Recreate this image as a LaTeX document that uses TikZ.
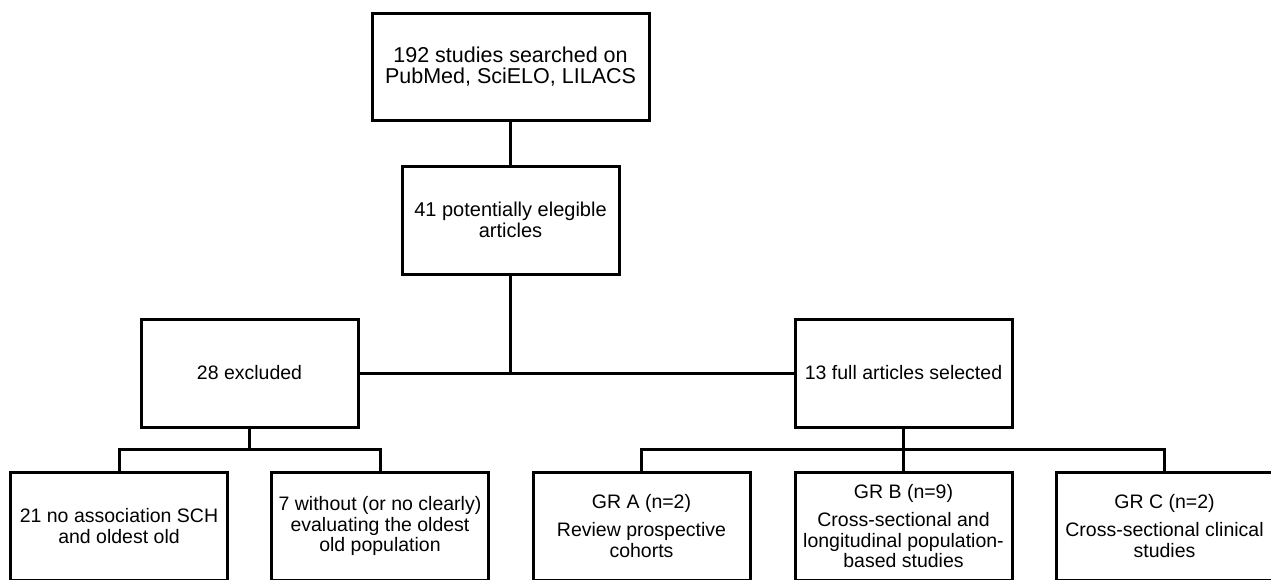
\documentclass[tikz,border=0pt]{standalone}
\usepackage{fontspec}
\setmainfont{Liberation Sans}
\usetikzlibrary{positioning}

\begin{document}
\begin{tikzpicture}[
	x=1pt, y=1pt,
	box/.style={draw, line width=3pt, outer sep=0pt, minimum width=217pt, minimum height=108pt,
		align=center, inner sep=2pt, font=\fontsize{19.5}{20.5}\selectfont},
	link/.style={line width=3pt}
]
	\useasboundingbox (0,0) rectangle (1271,-579);
	
	\node[box, minimum width=277pt, minimum height=107pt, font=\fontsize{21.5}{20.5}\selectfont]
		(search) at (510.5,-66.5) {192 studies searched on\\PubMed, SciELO, LILACS};
	\node[box, below=46pt of search, font=\fontsize{20}{20.5}\selectfont] (elig) {41 potentially elegible\\articles};
	\node[box, below left=45pt and 152.5pt of elig.south] (excl) {28 excluded};
	\node[box, below right=45pt and 284.5pt of elig.south] (sel) {13 full articles selected};
	
	\node[box, below left=45pt and 22pt of excl.south] (exa) {21 no association SCH\\and oldest old};
	\node[box, below right=45pt and 22pt of excl.south] (exb) {7 without (or no clearly)\\evaluating the oldest\\old population};
	
	\node[box, below=45pt of sel] (grb) {GR B (n=9)\\[8pt]Cross-sectional and\\longitudinal population-\\based studies};
	\node[box, left=45pt of grb] (gra) {GR A (n=2)\\[8pt]Review prospective\\cohorts};
	\node[box, right=44pt of grb] (grc) {GR C (n=2)\\[8pt]Cross-sectional clinical\\studies};
	
	\coordinate (mid) at (elig.south |- excl.east);
	\coordinate[below=22pt of excl.south] (bx);
	\coordinate[below=22pt of sel.south] (bs);
	
	\draw[link] (search) -- (elig);
	\draw[link] (elig) -- (mid);
	\draw[link] (excl) -- (sel);
	\draw[link] (excl) -- (bx);
	\draw[link] (exa.north) |- (bx) -| (exb.north);
	\draw[link] (sel) -- (bs);
	\draw[link] (gra.north) |- (bs) -| (grc.north);
	\draw[link] (bs) -- (grb);
\end{tikzpicture}
\end{document}
